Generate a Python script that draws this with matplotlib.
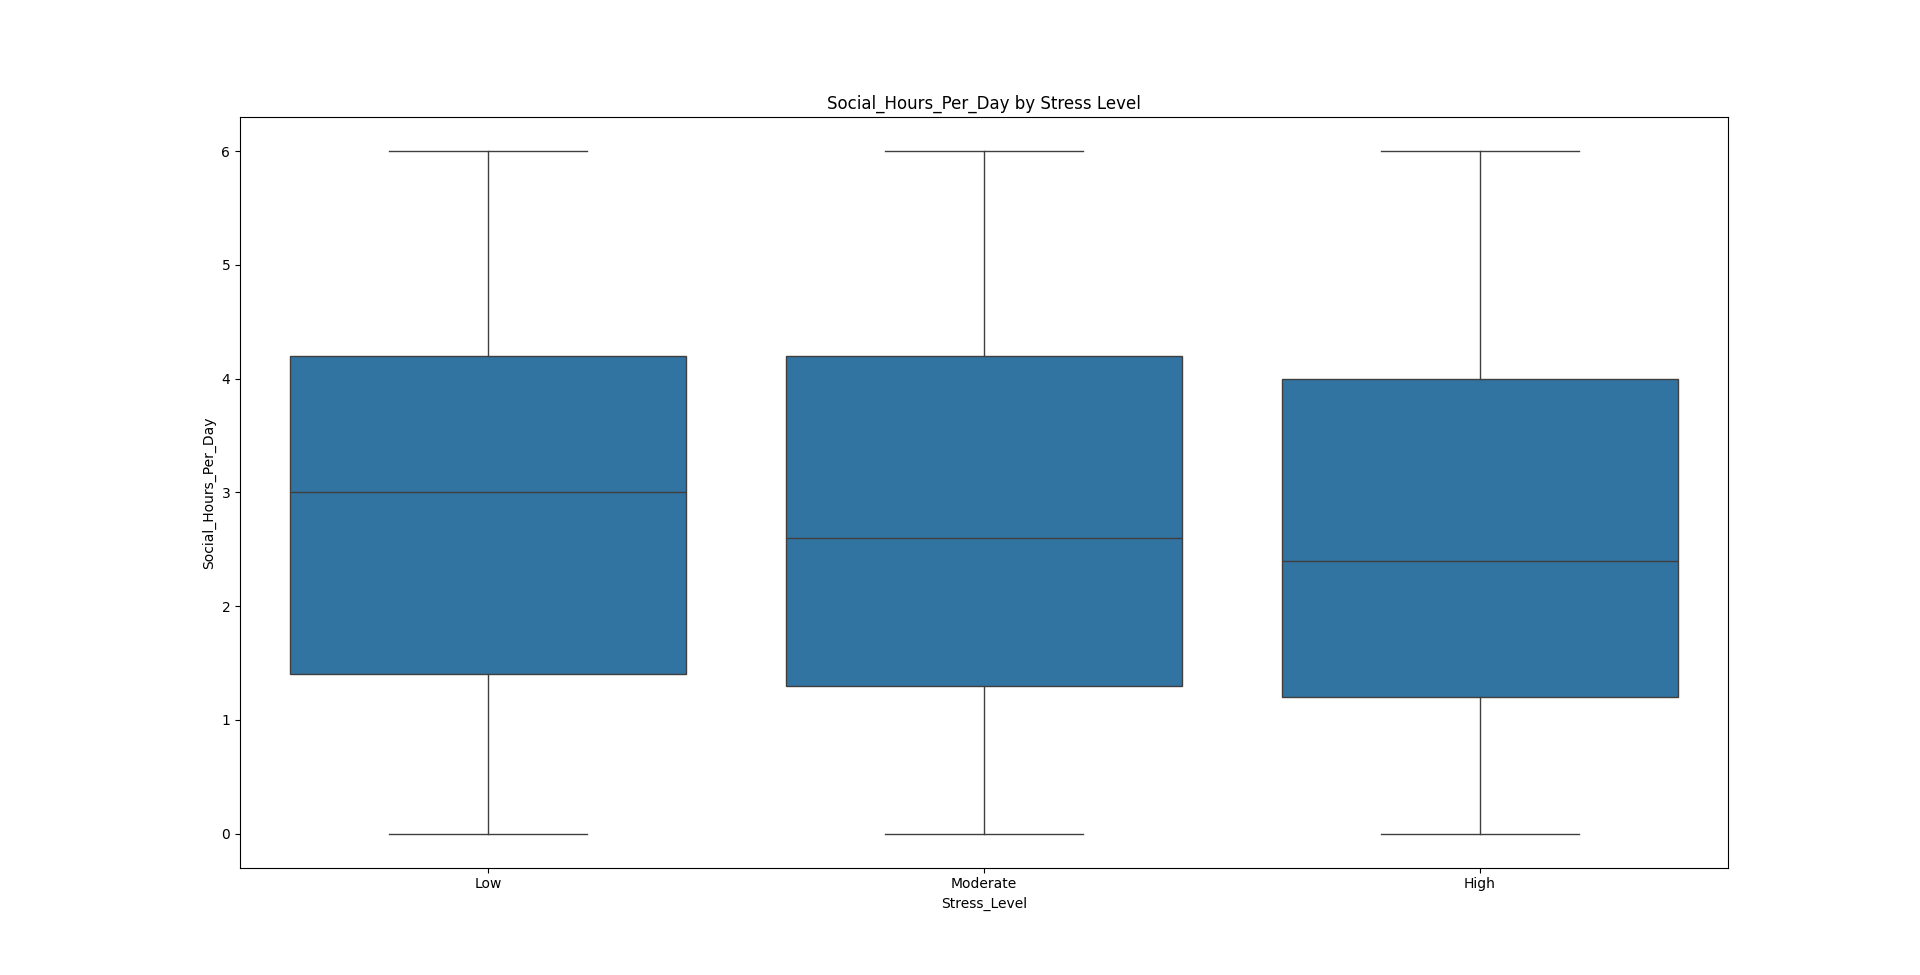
import matplotlib
matplotlib.use('Agg')
import matplotlib.pyplot as plt

# box stats per stress level
levels = ['Low', 'Moderate', 'High']
whis_lo = [0, 0, 0]
q1 = [1.4, 1.3, 1.2]
medians = [3.0, 2.6, 2.4]
q3 = [4.2, 4.2, 4.0]
whis_hi = [6, 6, 6]

stats = []
for i, lab in enumerate(levels):
    stats.append({'label': lab, 'whislo': whis_lo[i], 'q1': q1[i], 'med': medians[i],
                  'q3': q3[i], 'whishi': whis_hi[i], 'fliers': []})

fig, ax = plt.subplots(figsize=(19.2, 9.75), dpi=100)
line_col = '#3f3f3f'
ax.bxp(stats, positions=range(len(levels)), widths=0.8, patch_artist=True,
       showfliers=False,
       boxprops=dict(facecolor='#3274a1', edgecolor=line_col, linewidth=1.0),
       medianprops=dict(color=line_col, linewidth=1.0),
       whiskerprops=dict(color=line_col, linewidth=1.0),
       capprops=dict(color=line_col, linewidth=1.0),
       capwidths=0.4)
ax.set_xlim(-0.5, len(levels) - 0.5)
ax.set_xticks(range(len(levels)))
ax.set_xticklabels(levels)
ax.set_title('Social_Hours_Per_Day by Stress Level')
ax.set_xlabel('Stress_Level')
ax.set_ylabel('Social_Hours_Per_Day')

fig.savefig('out.png')
